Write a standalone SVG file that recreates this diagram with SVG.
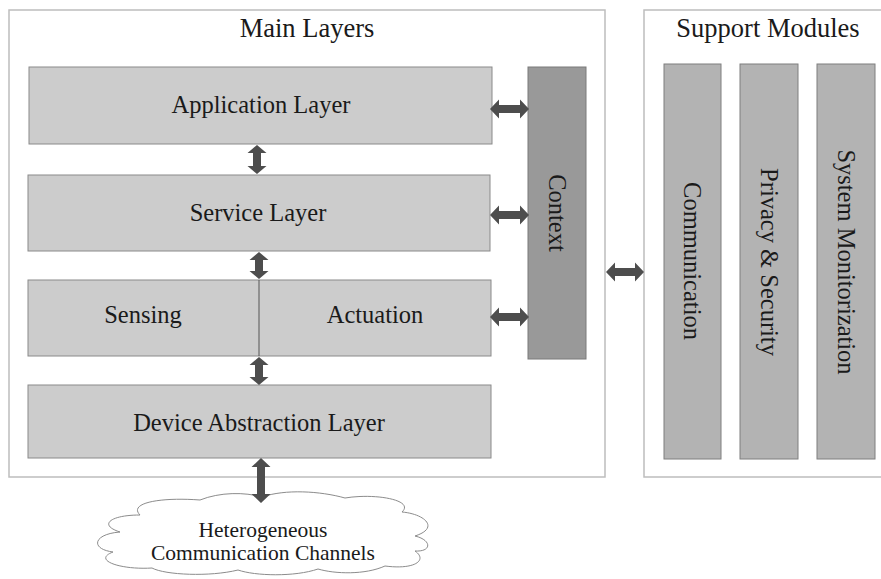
<svg xmlns="http://www.w3.org/2000/svg" width="881" height="579" viewBox="0 0 881 579">
  <style>
    .frame { fill: #ffffff; stroke: #bdbdbd; stroke-width: 1.5; }
    .layer { fill: #cccccc; stroke: #8a8a8a; stroke-width: 1; }
    .context { fill: #999999; stroke: #7a7a7a; stroke-width: 1; }
    .module { fill: #b3b3b3; stroke: #7f7f7f; stroke-width: 1; }
    .arrow { fill: #4d4d4d; stroke: none; }
    .divider { stroke: #555555; stroke-width: 1; }
    .cloud { fill: #ffffff; stroke: #8c8c8c; stroke-width: 1; }
    text { font-family: "Liberation Serif", "Times New Roman", serif; fill: #1a1a1a; }
    .title { font-size: 26.5px; text-anchor: middle; }
    .label { font-size: 24.5px; text-anchor: middle; }
    .vlabel { font-size: 24.5px; text-anchor: middle; dominant-baseline: central; }
    .small { font-size: 21.5px; text-anchor: middle; }
  </style>

  <!-- containers -->
  <g id="main-layers">
    <rect class="frame" x="9" y="10" width="596" height="467"/>
    <text class="title" x="307" y="37">Main Layers</text>
  </g>
  <g id="support-modules">
    <rect class="frame" x="644" y="10" width="250" height="467"/>
    <text class="title" x="768" y="37">Support Modules</text>
  </g>

  <!-- layers -->
  <g id="application-layer">
    <rect class="layer" x="29" y="67" width="463" height="77"/>
    <text class="label" x="261" y="113">Application Layer</text>
  </g>
  <g id="service-layer">
    <rect class="layer" x="28" y="175" width="462" height="76"/>
    <text class="label" x="258" y="221">Service Layer</text>
  </g>
  <g id="sensing-actuation">
    <rect class="layer" x="28" y="280" width="463" height="76"/>
    <line class="divider" x1="259" y1="280" x2="259" y2="356"/>
    <text class="label" x="143" y="323">Sensing</text>
    <text class="label" x="375" y="323">Actuation</text>
  </g>
  <g id="device-abstraction-layer">
    <rect class="layer" x="28" y="385" width="463" height="73"/>
    <text class="label" x="259" y="431">Device Abstraction Layer</text>
  </g>
  <g id="context">
    <rect class="context" x="528" y="67" width="58" height="292"/>
    <text class="vlabel" transform="translate(557 213) rotate(90)">Context</text>
  </g>

  <!-- support modules -->
  <g id="communication">
    <rect class="module" x="664" y="64" width="57" height="395"/>
    <text class="vlabel" transform="translate(692.5 261) rotate(90)">Communication</text>
  </g>
  <g id="privacy-security">
    <rect class="module" x="740" y="64" width="58" height="395"/>
    <text class="vlabel" transform="translate(769 262) rotate(90)">Privacy &amp; Security</text>
  </g>
  <g id="system-monitorization">
    <rect class="module" x="817" y="64" width="58" height="395"/>
    <text class="vlabel" transform="translate(846 262) rotate(90)">System Monitorization</text>
  </g>

  <!-- channel cloud -->
  <g id="communication-channels">
    <path class="cloud" d="M 140,515 C 128,503 160,497 200,500 C 220,492 245,492 262,497 C 285,489 320,491 345,498 C 375,493 415,500 402,512 C 425,514 440,528 415,536 C 432,540 432,552 415,551 C 428,560 415,570 385,566 C 365,575 335,574 318,569 C 295,577 255,576 238,570 C 210,577 165,575 152,568 C 120,570 92,560 113,552 C 90,549 93,534 120,532 C 98,525 110,515 140,515 Z"/>
    <text class="small" x="263" y="537">Heterogeneous</text>
    <text class="small" x="263" y="560">Communication Channels</text>
  </g>

  <!-- connectors: double-headed block arrows -->
  <g id="connectors">
    <!-- vertical, between layers -->
    <path class="arrow" d="M 257,145 L 266.5,153 L 261,153 L 261,166 L 266.5,166 L 257,174 L 247.5,166 L 253,166 L 253,153 L 247.5,153 Z"/>
    <path class="arrow" d="M 259,252 L 268.5,260 L 263,260 L 263,271 L 268.5,271 L 259,279 L 249.5,271 L 255,271 L 255,260 L 249.5,260 Z"/>
    <path class="arrow" d="M 259,357 L 268.5,365 L 263,365 L 263,377 L 268.5,377 L 259,385 L 249.5,377 L 255,377 L 255,365 L 249.5,365 Z"/>
    <path class="arrow" d="M 261,458 L 270.5,467 L 265,467 L 265,494 L 270.5,494 L 261,503 L 251.5,494 L 257,494 L 257,467 L 251.5,467 Z"/>
    <!-- horizontal, layers to context -->
    <path class="arrow" d="M 490,109 L 499,99.5 L 499,105 L 520,105 L 520,99.5 L 529,109 L 520,118.5 L 520,113 L 499,113 L 499,118.5 Z"/>
    <path class="arrow" d="M 490,215 L 499,205.5 L 499,211 L 520,211 L 520,205.5 L 529,215 L 520,224.5 L 520,219 L 499,219 L 499,224.5 Z"/>
    <path class="arrow" d="M 490,317 L 499,307.5 L 499,313 L 520,313 L 520,307.5 L 529,317 L 520,326.5 L 520,321 L 499,321 L 499,326.5 Z"/>
    <!-- main layers to support modules -->
    <path class="arrow" d="M 606,272 L 615,262.5 L 615,268 L 635,268 L 635,262.5 L 644,272 L 635,281.5 L 635,276 L 615,276 L 615,281.5 Z"/>
  </g>
</svg>
